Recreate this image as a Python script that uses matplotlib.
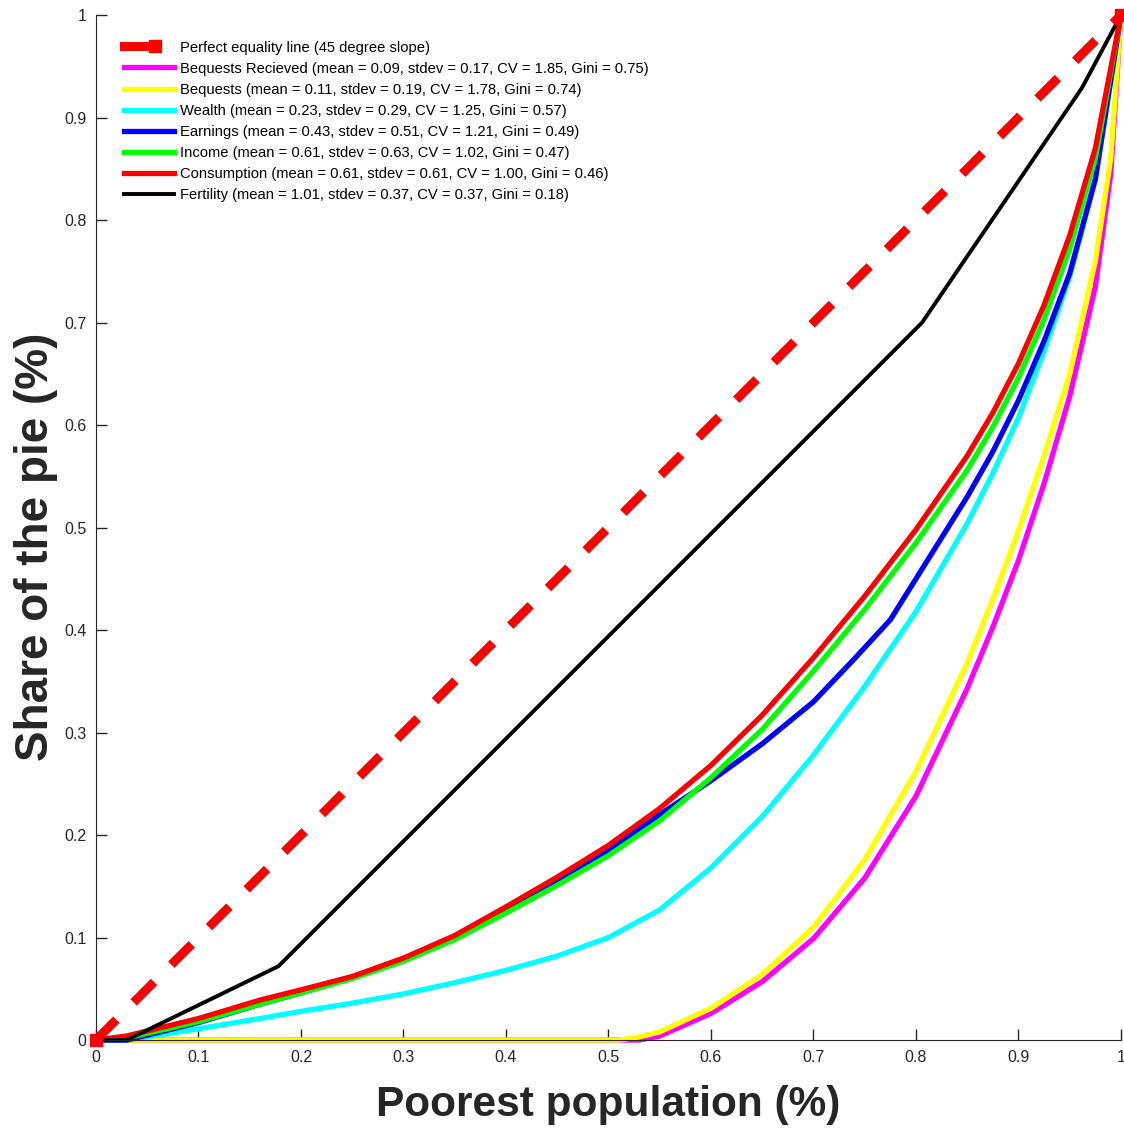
import numpy as np
import matplotlib
matplotlib.use("Agg")
from matplotlib import pyplot as plt
from matplotlib.legend_handler import HandlerLine2D

# Lorenz curves
x_mid = [0, 0.03, 0.1, 0.16, 0.2, 0.25, 0.3, 0.35, 0.4, 0.45, 0.5, 0.55, 0.6,
         0.65, 0.7, 0.75, 0.8, 0.85, 0.875, 0.9, 0.925, 0.95, 0.975, 1.0]
consumption = [0, 0.004, 0.021, 0.039, 0.049, 0.062, 0.08, 0.102, 0.13, 0.159,
               0.19, 0.226, 0.268, 0.317, 0.373, 0.433, 0.498, 0.57, 0.612,
               0.66, 0.717, 0.785, 0.87, 1.0]
income = [0, 0.002, 0.018, 0.035, 0.046, 0.06, 0.077, 0.098, 0.124, 0.151,
          0.18, 0.214, 0.256, 0.303, 0.36, 0.42, 0.485, 0.556, 0.598,
          0.646, 0.703, 0.772, 0.86, 1.0]
wealth = [0, 0.0, 0.011, 0.021, 0.028, 0.036, 0.045, 0.056, 0.068, 0.082,
          0.1, 0.127, 0.168, 0.218, 0.278, 0.345, 0.418, 0.504, 0.553,
          0.607, 0.672, 0.745, 0.84, 1.0]
earn_x = [0, 0.03, 0.1, 0.16, 0.2, 0.25, 0.3, 0.35, 0.4, 0.45, 0.5, 0.55, 0.6,
          0.65, 0.7, 0.74, 0.775, 0.8, 0.85, 0.875, 0.9, 0.925, 0.95, 0.975, 1.0]
earnings = [0, 0.0, 0.017, 0.035, 0.046, 0.061, 0.079, 0.1, 0.127, 0.155,
            0.185, 0.22, 0.253, 0.289, 0.33, 0.372, 0.41, 0.45, 0.53, 0.574,
            0.624, 0.682, 0.748, 0.84, 1.0]
beq_x = [0, 0.51, 0.53, 0.55, 0.6, 0.65, 0.7, 0.75, 0.8, 0.85, 0.875, 0.9,
         0.925, 0.95, 0.975, 0.99, 1.0]
bequests = [0, 0, 0.003, 0.008, 0.031, 0.064, 0.11, 0.176, 0.262, 0.368, 0.43,
            0.497, 0.57, 0.65, 0.76, 0.86, 1.0]
bequests_rec = [0, 0, 0, 0.004, 0.026, 0.057, 0.099, 0.158, 0.238, 0.343,
                0.403, 0.468, 0.543, 0.628, 0.735, 0.845, 1.0]
fert_x = [0, 0.03, 0.178, 0.806, 0.962, 1.0]
fert_y = [0, 0.0, 0.072, 0.70, 0.929, 1.0]

labels = [
    "Perfect equality line (45 degree slope)",
    "Bequests Recieved (mean = 0.09, stdev = 0.17, CV = 1.85, Gini = 0.75)",
    "Bequests (mean = 0.11, stdev = 0.19, CV = 1.78, Gini = 0.74)",
    "Wealth (mean = 0.23, stdev = 0.29, CV = 1.25, Gini = 0.57)",
    "Earnings (mean = 0.43, stdev = 0.51, CV = 1.21, Gini = 0.49)",
    "Income (mean = 0.61, stdev = 0.63, CV = 1.02, Gini = 0.47)",
    "Consumption (mean = 0.61, stdev = 0.61, CV = 1.00, Gini = 0.46)",
    "Fertility (mean = 1.01, stdev = 0.37, CV = 0.37, Gini = 0.18)",
]

class EndMarkerHandler(HandlerLine2D):
    # shorter solid sample with the marker at its end, like the original legend
    def create_artists(self, *args, **kwargs):
        arts = super().create_artists(*args, **kwargs)
        xd = arts[0].get_xdata()
        arts[0].set_xdata(np.linspace(xd[0], xd[0] + 0.62 * (xd[-1] - xd[0]), 3))
        arts[0].set_markevery([2])
        arts[0].set_linestyle('-')
        return arts

plt.rcParams['font.family'] = ['Liberation Sans', 'DejaVu Sans']
grey = '#262626'

fig = plt.figure(figsize=(11.24, 11.30), dpi=100)
ax = fig.add_axes([0.0854, 0.0796, 0.9119, 0.9071])

eq_line, = ax.plot([0, 1], [0, 1], color='#ff0000', lw=6.5, linestyle=(0, (3.2, 2.7)),
                   marker='s', ms=9, clip_on=False, label=labels[0], zorder=3)
series = [(beq_x, bequests_rec, '#ff00ff'), (beq_x, bequests, '#ffff00'),
          (x_mid, wealth, '#00ffff'), (earn_x, earnings, '#0000ff'),
          (x_mid, income, '#00ff00'), (x_mid, consumption, '#ff0000')]
for i, (xs, vals, col) in enumerate(series):
    ax.plot(xs, vals, color=col, lw=3.8, clip_on=False, label=labels[i + 1])
ax.plot(fert_x, fert_y, color='k', lw=2.8, clip_on=False, label=labels[7])

ax.set_xlim(0, 1); ax.set_ylim(0, 1)
ticks = np.arange(0, 1.01, 0.1)
ticklabels = ['0'] + ['%.1f' % t for t in ticks[1:-1]] + ['1']
ax.set_xticks(ticks); ax.set_xticklabels(ticklabels)
ax.set_yticks(ticks); ax.set_yticklabels(ticklabels)
ax.tick_params(direction='in', length=8, width=1, colors=grey, labelsize=11.5, pad=7)
for s in ['top', 'right']:
    ax.spines[s].set_visible(False)
for s in ['left', 'bottom']:
    ax.spines[s].set_color(grey)

ax.set_xlabel("Poorest population (%)", fontsize=30.5, fontweight='bold', color=grey, labelpad=14.5)
ax.set_ylabel("Share of the pie (%)", fontsize=33, fontweight='bold', color=grey, labelpad=4)
ax.yaxis.label.set_y(0.481)

leg = ax.legend(loc='upper left', bbox_to_anchor=(0.014, 0.988), frameon=False,
                fontsize=10.6, handlelength=3.4, handletextpad=0.45, labelspacing=0.48,
                numpoints=1, handler_map={eq_line: EndMarkerHandler()})

fig.savefig("out.png", dpi=100)
